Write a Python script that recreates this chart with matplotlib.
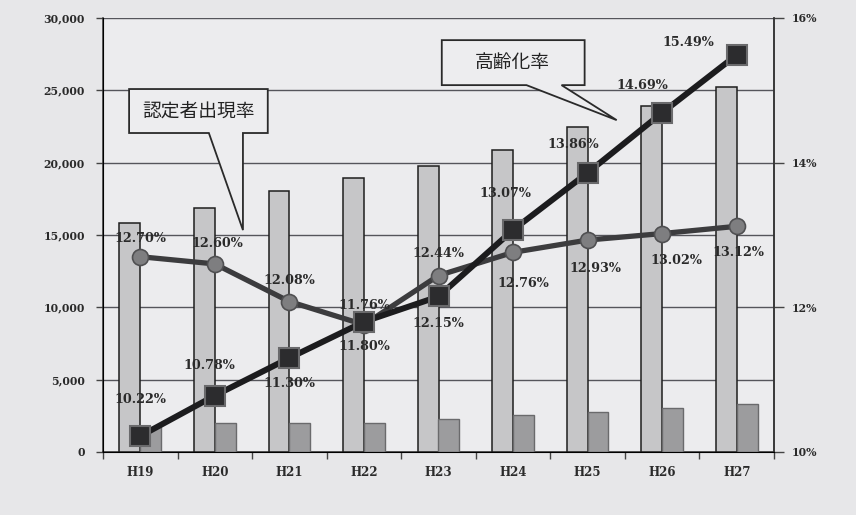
import matplotlib
matplotlib.use('Agg')
import matplotlib.pyplot as plt
from matplotlib.patches import Polygon
import numpy as np

# ---- data ----
years = ['H19', 'H20', 'H21', 'H22', 'H23', 'H24', 'H25', 'H26', 'H27']
population_bars = [15800, 16850, 18050, 18950, 19750, 20850, 22500, 23900, 25250]
certified_bars = [1700, 2000, 2000, 2000, 2300, 2550, 2750, 3050, 3300]
aging_rate = [10.22, 10.78, 11.30, 11.80, 12.15, 13.07, 13.86, 14.69, 15.49]
cert_rate = [12.70, 12.60, 12.08, 11.76, 12.44, 12.76, 12.93, 13.02, 13.12]
left_ticks = [0, 5000, 10000, 15000, 20000, 25000, 30000]
right_ticks = [10, 12, 14, 16]
aging_name = '高齢化率'
cert_name = '認定者出現率'

# ---- label offsets (pixels) ----
aging_off = [(0, 37), (-6, 30), (0, -26), (0, -25), (0, -27), (-8, 36), (-14, 28), (-20, 27), (-48, 12)]
cert_off = [(0, 18), (2, 20), (0, 21), (0, 19), (0, 22), (10, -31), (8, -28), (14, -27), (2, -26)]

plt.rcParams['font.family'] = ['DejaVu Serif']
BG = '#e7e7e9'
fig = plt.figure(figsize=(8.56, 5.15), dpi=100, facecolor=BG)
ax = fig.add_axes([103 / 856, 1 - 452 / 515, (774 - 103) / 856, (452 - 18) / 515])
ax.set_facecolor('#ececee')

x = np.arange(len(years))
w = 0.28
ax.bar(x - w / 2, population_bars, width=w, color='#c6c6c8', edgecolor='#1e1e1e', linewidth=1.1, zorder=3)
ax.bar(x + w / 2, certified_bars, width=w, color='#9c9c9e', edgecolor='#6a6a6c', linewidth=1.0, zorder=3)

ax.set_xlim(-0.5, len(years) - 0.5)
ax.set_ylim(0, 30000)
ax.set_yticks(left_ticks)
ax.set_yticklabels([f'{v:,}' for v in left_ticks])
ax.set_xticks(x)
ax.set_xticklabels(years)
ax.set_xticks(np.arange(-0.5, len(years) + 0.5, 1), minor=True)
ax.tick_params(axis='x', which='major', length=0, pad=10, labelsize=8.5, colors='#2a2a2a')
ax.tick_params(axis='x', which='minor', length=5, width=1, color='#444', direction='out')
ax.tick_params(axis='y', length=5, width=1, color='#444', pad=8, labelsize=7.8, colors='#2a2a2a')
for lab in ax.get_xticklabels() + ax.get_yticklabels():
    lab.set_fontweight('bold')
ax.yaxis.grid(True, color='#55555b', linewidth=1.0, zorder=1)
ax.set_axisbelow(True)
ax.spines['top'].set_visible(False)
for s in ['left', 'right', 'bottom']:
    ax.spines[s].set_color('#333')
    ax.spines[s].set_linewidth(1.1)

ax2 = ax.twinx()
ax2.set_ylim(10, 16)
ax2.set_yticks(right_ticks)
ax2.set_yticklabels([f'{v}%' for v in right_ticks])
ax2.tick_params(axis='y', length=7, width=1, color='#444', pad=6, labelsize=7.8, colors='#2a2a2a')
for lab in ax2.get_yticklabels():
    lab.set_fontweight('bold')
ax2.spines['top'].set_visible(False)
ax2.spines['right'].set_color('#333')
ax2.spines['right'].set_linewidth(1.1)

ax2.plot(x, cert_rate, color='#3c3c3e', linewidth=3.8, marker='o', markersize=11.5,
         markerfacecolor='#7e7e80', markeredgecolor='#505052', markeredgewidth=1.2, zorder=5)
ax2.plot(x, aging_rate, color='#1c1c1e', linewidth=4.3, marker='s', markersize=15,
         markerfacecolor='#2c2c2e', markeredgecolor='#6a6a6c', markeredgewidth=1.5, zorder=6)

for xi, v, off in zip(x, aging_rate, aging_off):
    ax2.annotate(f'{v:.2f}%', (xi, v), xytext=off, textcoords='offset pixels',
                 ha='center', va='center', fontsize=9.2, fontweight='bold', color='#2a2a2a', zorder=8)
for xi, v, off in zip(x, cert_rate, cert_off):
    ax2.annotate(f'{v:.2f}%', (xi, v), xytext=off, textcoords='offset pixels',
                 ha='center', va='center', fontsize=9.2, fontweight='bold', color='#2a2a2a', zorder=8)

# ---- callouts (layout, in left-axis data coords) ----
call1 = [(-0.15, 25090), (1.71, 25090), (1.71, 22050), (1.377, 22050), (1.377, 15340),
         (0.92, 22050), (-0.15, 22050)]
call2 = [(4.044, 28470), (5.96, 28470), (5.96, 25360), (5.65, 25360), (6.39, 22940),
         (5.18, 25360), (4.044, 25360)]
for pts in (call1, call2):
    ax2.add_patch(Polygon(pts, closed=True, facecolor='#ededef', edgecolor='#2a2a2a',
                          linewidth=1.3, transform=ax.transData, zorder=7))
ax2.text(0.787, 23570, cert_name, transform=ax.transData, ha='center', va='center',
         fontsize=13.5, family=['Noto Sans CJK JP'], color='#222', zorder=9)
ax2.text(4.996, 26950, aging_name, transform=ax.transData, ha='center', va='center',
         fontsize=13.5, family=['Noto Sans CJK JP'], color='#222', zorder=9)

fig.savefig('out.png', dpi=100, facecolor=BG)
